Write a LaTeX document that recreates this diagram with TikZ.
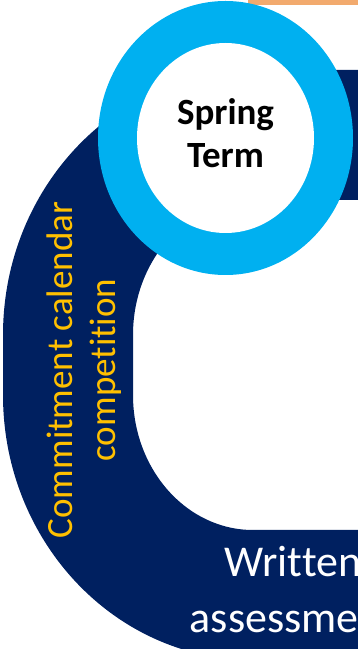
\documentclass[tikz,border=0pt]{standalone}
\usepackage{fontspec}
\setmainfont{Carlito}[Ligatures=NoCommon]
\usepackage{tikz}
\usetikzlibrary{positioning}
\definecolor{termnavy}{RGB}{0,32,96}
\definecolor{termcyan}{RGB}{0,176,240}
\definecolor{termgold}{RGB}{255,192,0}
\definecolor{termorange}{RGB}{242,170,110}
\tikzset{
  band-fill/.style={fill=termnavy, even odd rule},
  ring-fill/.style={fill=termcyan},
  hole-fill/.style={fill=white},
  term-label/.style={font=\fontsize{37}{43}\selectfont\bfseries, align=center,
    text=black, inner sep=0pt},
  side-label/.style={font=\fontsize{37}{43}\selectfont, align=center,
    text=termgold, rotate=90, inner sep=0pt},
  band-label/.style={font=\fontsize{44}{56}\selectfont, align=center,
    text=white, inner sep=0pt}
}

\begin{document}
\begin{tikzpicture}[x=1pt, y=1pt]
\useasboundingbox (0,0) rectangle (358,649);
\clip (0,0) rectangle (358,649);

% Navy band round the year
\path[band-fill] (420,579) -- (253,579)
    arc[start angle=90, end angle=180, x radius=250, y radius=265] -- (3,254)
    arc[start angle=180, end angle=270, x radius=250, y radius=265] -- (420,-11) -- cycle
  (420,449) -- (253,449)
    arc[start angle=90, end angle=180, x radius=120, y radius=135] -- (133,254)
    arc[start angle=180, end angle=270, x radius=120, y radius=135] -- (420,119) -- cycle;

% Bar of the next term
\fill[termorange] (248,644) rectangle (358,649);

% Term ring
\fill[ring-fill] (225.5,511) ellipse[x radius=127.5, y radius=137];
\fill[hole-fill] (225.5,511) ellipse[x radius=88.5, y radius=95];
\node[term-label] (spring) at (225.5,516) {Spring\\Term};

% Labels on the band
\node[side-label] (calendar) at (84,279) {Commitment calendar\\competition};
\node[band-label] (written) at (293,59) {Written\\assessment};
\end{tikzpicture}
\end{document}
